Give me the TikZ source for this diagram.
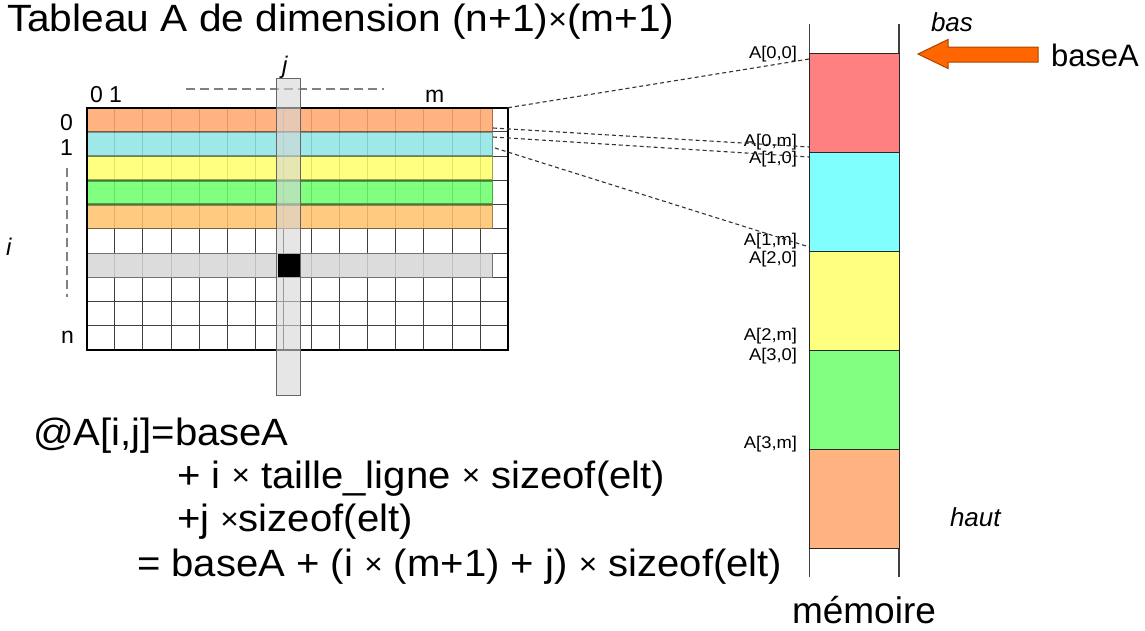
\documentclass[tikz,border=0pt]{standalone}
\usepackage{fontspec}
\setmainfont{Liberation Sans}
\newfontfamily\widefont[FakeStretch=1.07]{Liberation Sans}
\newfontfamily\formfont[FakeStretch=1.055]{Liberation Sans}
\newfontfamily\lblfont[FakeStretch=1.08]{Liberation Sans}
% a smaller multiplication sign, as in the formulas
\newcommand{\tms}{\raisebox{2.5pt}{\fontsize{30}{30}\selectfont ×}}

\definecolor{bandA}{HTML}{FFA66A}
\definecolor{bandB}{HTML}{8FE4E4}
\definecolor{bandC}{HTML}{FFFF6A}
\definecolor{bandD}{HTML}{6AFF6A}
\definecolor{bandE}{HTML}{FFC36A}
\definecolor{memR}{HTML}{FF8080}
\definecolor{memC}{HTML}{80FFFF}
\definecolor{memY}{HTML}{FFFF80}
\definecolor{memG}{HTML}{80FF80}
\definecolor{memO}{HTML}{FFB380}
\definecolor{arrowfill}{HTML}{FF6600}
\definecolor{arrowline}{HTML}{A84400}
\definecolor{selgray}{HTML}{D6D6D6}

\begin{document}
\begin{tikzpicture}[x=1pt,y=-1pt,
  txt/.style={anchor=base west, inner sep=0, outer sep=0},
  big/.style={txt, font=\widefont\fontsize{38}{40}\selectfont},
  form/.style={txt, font=\formfont\fontsize{38}{40}\selectfont},
  idx/.style={inner sep=0, outer sep=0, font=\fontsize{23}{26}\selectfont},
  addr/.style={anchor=base east, inner sep=0, outer sep=0, font=\lblfont\fontsize{17}{19}\selectfont},
  gridline/.style={black!75, line width=1},
  guide/.style={gray, line width=1.8, dash pattern=on 9pt off 5pt},
  link/.style={black!80, line width=1.1, dash pattern=on 4pt off 3pt},
  memline/.style={black!75, line width=1.2},
  memblock/.style={draw=black!85, line width=0.9, minimum width=89.7pt, minimum height=99pt, inner sep=0, outer sep=0}
]
\useasboundingbox (0,0) rectangle (1145,630);
\fill[white] (0,0) rectangle (1145,630);

% title
\node[big] (title) at (7,31.7) {Tableau A de dimension (n+1)\tms(m+1)};

% ---- the array A : 10 rows x 15 columns ----
\foreach \c in {1,...,14}
  \draw[gridline] ({86.7+\c*28.1},107.7) -- ({86.7+\c*28.1},350);
\foreach \r in {1,...,9}
  \draw[gridline] (86.7,{107.7+\r*24.23}) -- (508,{107.7+\r*24.23});

% coloured rows 0..4
\foreach \k/\col in {0/bandA,1/bandB,2/bandC,3/bandD,4/bandE}
  \filldraw[fill=\col, fill opacity=0.85, draw=\col!55!black, draw opacity=0.8, line width=1.2]
    (86.7,{107.7+\k*24.23+0.6}) rectangle (492.7,{107.7+(\k+1)*24.23-0.6});

% highlighted row i
\filldraw[fill=selgray, fill opacity=0.85, draw=black!55, line width=1]
  (86.7,{107.7+6*24.23}) rectangle (492.7,{107.7+7*24.23});

% outer frame
\draw[line width=2] (86.7,107.7) rectangle (508,350);

% index guides
\draw[guide] (186,89) -- (384,89);
\draw[guide] (67,168) -- (67,297);

% highlighted column j and element A[i,j]
\filldraw[fill=selgray, fill opacity=0.6, draw=black!60, line width=1]
  (276.7,78.3) rectangle (300,395.7);
\fill[black] (277.5,{107.7+6*24.23+0.5}) rectangle (299.5,{107.7+7*24.23-0.5});

% indices
\node[idx, anchor=base west] (c01) at (90,102) {0 1};
\node[idx, anchor=base west] (cm) at (425,102) {m};
\node[idx, anchor=base east] (r0) at (73,130) {0};
\node[idx, anchor=base east] (r1) at (73,155) {1};
\node[idx, anchor=base east] (rn) at (74,343) {n};
\node[idx, anchor=base west, font=\fontsize{24}{26}\selectfont\itshape] (ri) at (6,255) {i};
\node[idx, anchor=base west, font=\fontsize{24}{26}\selectfont\itshape] (cj) at (282,73) {j};

% connection points on the array
\coordinate (g00) at (508,107.7);
\coordinate (g0m) at (493,128);
\coordinate (g10) at (493,137);
\coordinate (g1m) at (495,148);

% ---- memory ----
\draw[memline] (809.3,24) -- (809.3,577);
\draw[memline] (899,24) -- (899,577);
\node[memblock, fill=memR] (mem0) at (854.15,102.8) {};
\node[memblock, fill=memC] (mem1) at (854.15,201.8) {};
\node[memblock, fill=memY] (mem2) at (854.15,300.8) {};
\node[memblock, fill=memG] (mem3) at (854.15,399.8) {};
\node[memblock, fill=memO] (mem4) at (854.15,498.8) {};

% addresses
\node[addr] (a00) at (797,58.4) {A[0,0]};
\node[addr] (a0m) at (797,146.7) {A[0,m]};
\node[addr] (a10) at (797,163.4) {A[1,0]};
\node[addr] (a1m) at (797,245) {A[1,m]};
\node[addr] (a20) at (797,263.4) {A[2,0]};
\node[addr] (a2m) at (797,340) {A[2,m]};
\node[addr] (a30) at (797,360) {A[3,0]};
\node[addr] (a3m) at (797,448.4) {A[3,m]};

\coordinate (m00) at (809.3,59);
\coordinate (m0m) at (809.3,147);
\coordinate (m10) at (809.3,157);
\coordinate (m1m) at (809.3,247);

\draw[link] (g00) -- (m00);
\draw[link] (g0m) -- (m0m);
\draw[link] (g10) -- (m10);
\draw[link] (g1m) -- (m1m);

% base address pointer
\filldraw[fill=arrowfill, draw=arrowline, line width=1]
  (918,54) -- (948,39.5) -- (948,47) -- (1038,47) -- (1038,62) -- (948,62) -- (948,68.5) -- cycle;
\node[txt, font=\fontsize{31}{34}\selectfont] (base) at (1051,66.7) {baseA};

\node[txt, font=\fontsize{26}{28}\selectfont\itshape] (bas) at (931,31.7) {bas};
\node[txt, font=\fontsize{26}{28}\selectfont\itshape] (haut) at (950,526.7) {haut};
\node[txt, font=\fontsize{37}{40}\selectfont] (memoire) at (792,623) {mémoire};

% address formula
\node[form] (f1) at (33,445) {@A[i,j]=baseA};
\node[form] (f2) at (177,488) {+ i \tms{} taille\_ligne \tms{} sizeof(elt)};
\node[form] (f3) at (177,531.7) {+j \tms sizeof(elt)};
\node[form] (f4) at (137,576.7) {= baseA + (i \tms{} (m+1) + j) \tms{} sizeof(elt)};
\end{tikzpicture}
\end{document}
